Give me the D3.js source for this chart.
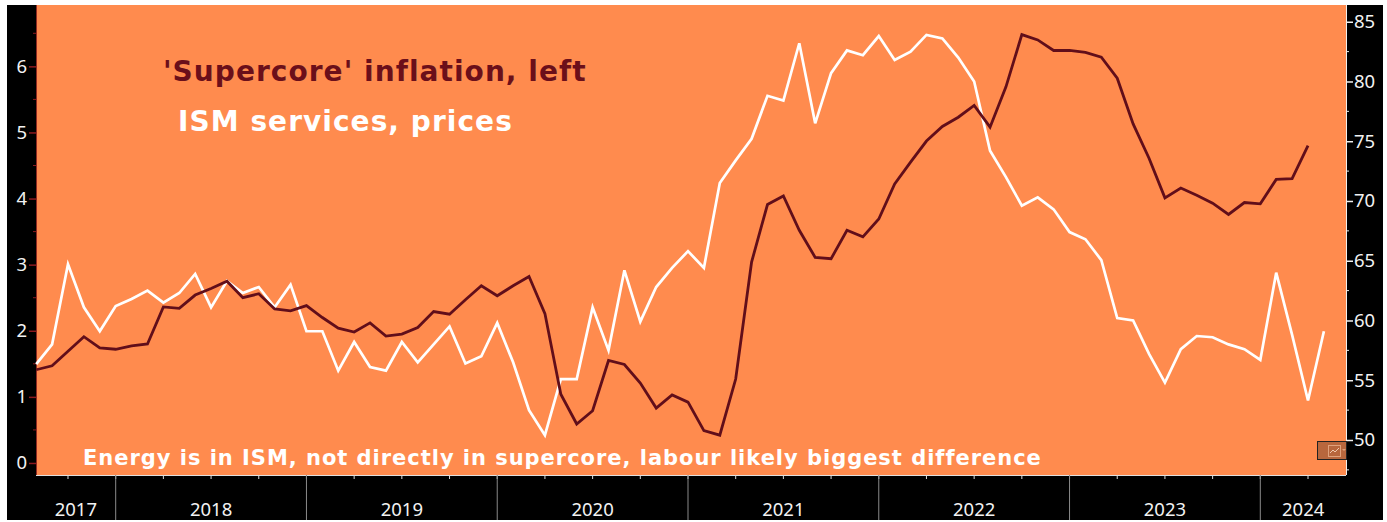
<!DOCTYPE html>
<html>
<head>
<meta charset="utf-8">
<script src="https://cdn.jsdelivr.net/npm/d3@7/dist/d3.min.js"></script>
<style>
html,body{margin:0;padding:0;background:#fff;overflow:hidden}
svg{display:block}
</style>
</head>
<body>
<svg id="chart" width="1387" height="522"></svg>
<script>
const startYear = 2017, startMonth = 7; // Aug 2017
const supercore = [1.41,1.47,1.69,1.91,1.74,1.72,1.77,1.80,2.36,2.34,2.54,2.64,2.75,2.50,2.56,2.33,2.30,2.38,2.20,2.04,1.98,2.12,1.92,1.95,2.05,2.29,2.25,2.47,2.68,2.53,2.68,2.82,2.26,1.04,0.59,0.79,1.55,1.49,1.21,0.83,1.03,0.92,0.49,0.42,1.27,3.04,3.91,4.04,3.52,3.11,3.09,3.52,3.42,3.69,4.22,4.55,4.87,5.09,5.23,5.41,5.08,5.69,6.48,6.40,6.24,6.24,6.21,6.14,5.82,5.13,4.61,4.01,4.16,4.05,3.93,3.76,3.94,3.92,4.29,4.30,4.80];
const ismPrices = [56.35,58.0,64.7,61.1,59.1,61.2,61.8,62.5,61.5,62.3,63.9,61.1,63.3,62.3,62.8,61.1,63.0,59.1,59.1,55.8,58.2,56.1,55.8,58.2,56.5,58.0,59.5,56.4,57.0,59.8,56.5,52.5,50.4,55.1,55.1,61.1,57.5,64.2,59.9,62.8,64.4,65.8,64.4,71.5,73.4,75.2,78.8,78.4,83.2,76.5,80.7,82.6,82.2,83.8,81.8,82.5,83.9,83.6,82.0,80.0,74.2,72.0,69.6,70.3,69.3,67.4,66.8,65.05,60.2,60.0,57.2,54.8,57.6,58.7,58.6,58.0,57.6,56.7,64.0,58.8,53.3,59.1];
const leftTicks = [0,1,2,3,4,5,6];
const leftMinor = [0.5,1.5,2.5,3.5,4.5,5.5,6.5];
const rightTicks = [50,55,60,65,70,75,80,85];
const rightMinor = [47.5,52.5,57.5,62.5,67.5,72.5,77.5,82.5];
const years = [2017,2018,2019,2020,2021,2022,2023,2024];
const titleLeft = "'Supercore' inflation, left";
const titleRight = "ISM services, prices";
const note = "Energy is in ISM, not directly in supercore, labour likely biggest difference";

const bg = "#FF8B4E", maroon = "#6B0F1A", lineMaroon = "#610E1A", sepCol = "#8A8A8A";
const plot = {l:36, r:1346, t:5, b:475};
const svg = d3.select("#chart");

const x = d3.scaleLinear().domain([0,82.39]).range([36.2,1346]);
const yL = d3.scaleLinear().domain([-0.182,6.928]).range([plot.b,plot.t]);
const yR = d3.scaleLinear().domain([47.07,86.4]).range([plot.b,plot.t]);
const labelFont = "'Noto Sans',sans-serif";

// frame
svg.append("rect").attr("x",7).attr("y",5).attr("width",1376).attr("height",515).attr("fill","#000");
svg.append("rect").attr("x",plot.l).attr("y",plot.t).attr("width",plot.r-plot.l).attr("height",plot.b-plot.t).attr("fill",bg);

// left axis
const gL = svg.append("g").attr("transform",`translate(${plot.l},0)`);
gL.call(d3.axisLeft(yL).tickValues(leftTicks).tickSize(7).tickPadding(2).tickFormat(d3.format("d")));
gL.select(".domain").attr("stroke","#8f2a22").attr("d",`M0.5,${plot.t}V${plot.b}`);
gL.selectAll(".tick line").attr("stroke","#8B1A1F").attr("stroke-width",1.5);
gL.selectAll(".tick text").attr("fill","#F2F2F2").attr("font-family",labelFont).attr("font-size",18.5);
gL.selectAll("line.minor").data(leftMinor).enter().append("line").attr("class","minor")
  .attr("x1",-3).attr("x2",0).attr("y1",d=>yL(d)).attr("y2",d=>yL(d)).attr("stroke","#8B1A1F");

// right axis
const gR = svg.append("g").attr("transform",`translate(${plot.r},0)`);
gR.call(d3.axisRight(yR).tickValues(rightTicks).tickSize(7).tickPadding(1).tickFormat(d3.format("d")));
gR.select(".domain").attr("stroke","#F0F0F0").attr("d",`M0.5,${plot.t}V${plot.b}`);
gR.selectAll(".tick line").attr("stroke","#F0F0F0").attr("stroke-width",1.5);
gR.selectAll(".tick text").attr("fill","#F2F2F2").attr("font-family",labelFont).attr("font-size",18.5);
gR.selectAll("line.minor").data(rightMinor).enter().append("line").attr("class","minor")
  .attr("x1",0).attr("x2",3).attr("y1",d=>yR(d)).attr("y2",d=>yR(d)).attr("stroke","#F0F0F0");

// bottom axis
const monthIdx = (yr,m) => (yr-startYear)*12 + m - startMonth;
const quarterIdx = d3.range(2,83,3);
const yearStart = years.slice(1).map(y=>monthIdx(y,0));
svg.append("line").attr("x1",plot.l).attr("x2",plot.r).attr("y1",plot.b+0.5).attr("y2",plot.b+0.5).attr("stroke","#E0E0E0");
svg.selectAll("line.q").data(quarterIdx).enter().append("line").attr("class","q")
  .attr("x1",d=>x(d)).attr("x2",d=>x(d)).attr("y1",plot.b).attr("y2",plot.b+4).attr("stroke","#DDD");
svg.selectAll("line.ys").data(yearStart).enter().append("line").attr("class","ys")
  .attr("x1",d=>x(d)).attr("x2",d=>x(d)).attr("y1",plot.b).attr("y2",520).attr("stroke",sepCol);
const edges = [x.domain()[0]-0.01, ...yearStart, x.domain()[1]];
svg.selectAll("text.yr").data(years).enter().append("text").attr("class","yr")
  .attr("x",(d,i)=>(x(edges[i])+x(edges[i+1]))/2).attr("y",516).attr("text-anchor","middle")
  .attr("fill","#F2F2F2").attr("font-family",labelFont).attr("font-size",18.5).text(d=>d);

// lines
const lineL = d3.line().x((d,i)=>x(i)).y(d=>yL(d));
const lineR = d3.line().x((d,i)=>x(i)).y(d=>yR(d));
svg.append("path").attr("d",lineR(ismPrices)).attr("fill","none").attr("stroke","#fff").attr("stroke-width",2.7);
svg.append("path").attr("d",lineL(supercore)).attr("fill","none").attr("stroke",lineMaroon).attr("stroke-width",2.8);

// annotations
const ann = "'DejaVu Sans',Verdana,sans-serif";
svg.append("text").attr("x",163).attr("y",81).attr("fill",maroon).attr("font-family",ann).attr("font-weight","bold").attr("font-size",28).attr("letter-spacing",1.05).text(titleLeft);
svg.append("text").attr("x",178).attr("y",131).attr("fill","#fff").attr("font-family",ann).attr("font-weight","bold").attr("font-size",28).attr("letter-spacing",1.05).text(titleRight);
svg.append("text").attr("x",83).attr("y",465).attr("fill","#fff").attr("font-family",ann).attr("font-weight","bold").attr("font-size",21).attr("letter-spacing",0.97).text(note);

// chart-type widget
const w = svg.append("g").attr("transform","translate(1317,441)");
w.append("rect").attr("x",0.5).attr("y",0.5).attr("width",29).attr("height",18).attr("fill","#B8673D").attr("stroke","#222");
w.append("rect").attr("x",11.5).attr("y",4.5).attr("width",12).attr("height",11).attr("fill","none").attr("stroke","#E0A27C");
w.append("path").attr("d","M13,12L16,9L18,11L22,7").attr("fill","none").attr("stroke","#F0C8AC");
w.append("path").attr("d","M25,8h4l-2,2z").attr("fill","#E0A27C");
</script>
</body>
</html>
